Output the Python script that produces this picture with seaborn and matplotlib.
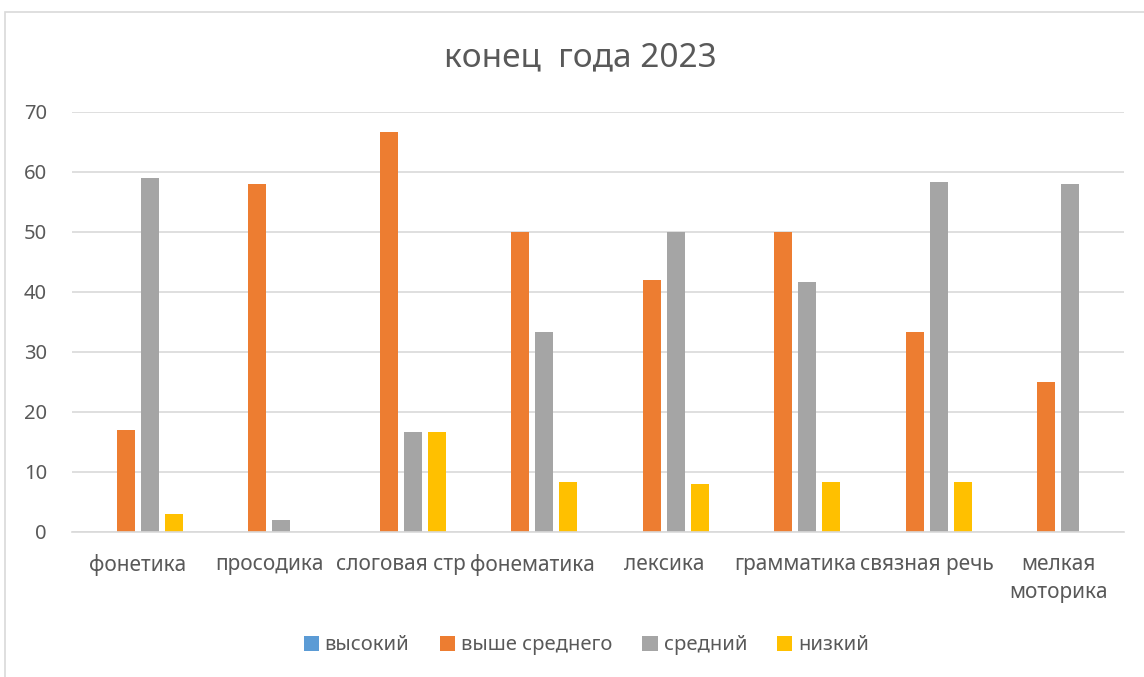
import matplotlib
matplotlib.use("Agg")
import pandas as pd
import seaborn as sns
from matplotlib import pyplot as plt
from matplotlib.patches import Rectangle

# chart values
categories = ['фонетика', 'просодика', 'слоговая стр', 'фонематика', 'лексика',
              'грамматика', 'связная речь', 'мелкая\nмоторика']
levels = ['высокий', 'выше среднего', 'средний', 'низкий']
high = [0, 0, 0, 0, 0, 0, 0, 0]
above_avg = [17, 58, 66.7, 50, 42, 50, 33.3, 25]
average = [59, 2, 16.7, 33.3, 50, 41.7, 58.3, 58]
low = [3, 0, 16.7, 8.3, 8, 8.3, 8.3, 0]
colors = ['#5B9BD5', '#ED7D31', '#A5A5A5', '#FFC000']

df = pd.DataFrame({'Категория': categories * 4,
                   'Уровень': [lvl for lvl in levels for _ in categories],
                   'value': high + above_avg + average + low})

sns.set_theme(style="white")
plt.rcParams['font.family'] = ['Noto Sans', 'DejaVu Sans']
text_color = '#595959'

fig = plt.figure(figsize=(11.44, 6.77), dpi=100)
ax = fig.add_axes([0.063, 0.2142, 0.9195, 0.6204])

sns.barplot(data=df, x='Категория', y='value', hue='Уровень', hue_order=levels,
            palette=colors, saturation=1, width=0.73, gap=0.25, linewidth=0,
            ax=ax, legend=True)

ax.set_ylim(0, 70)
ax.set_yticks(range(0, 71, 10))
ax.set_xlim(-0.5, len(categories) - 0.5)
ax.yaxis.grid(True, color='#D9D9D9', linewidth=1.2)
ax.set_axisbelow(True)
for side in ['top', 'right', 'left']:
    ax.spines[side].set_visible(False)
ax.spines['bottom'].set_color('#D9D9D9')
ax.spines['bottom'].set_linewidth(1.2)
ax.tick_params(axis='both', length=0, labelcolor=text_color)
ax.tick_params(axis='x', pad=16, labelsize=15)
ax.tick_params(axis='y', pad=18, labelsize=14.5)
for lbl in ax.get_xticklabels():
    lbl.set_linespacing(1.45)
ax.set_xlabel('')
ax.set_ylabel('')

ax.legend(loc='center', bbox_to_anchor=(0.489, -0.27), ncol=4, frameon=False,
          fontsize=14.5, handlelength=0.75, handleheight=0.75, handletextpad=0.3,
          columnspacing=1.5, labelcolor=text_color)

fig.text(0.507, 0.914, 'конец  года 2023', ha='center', va='center',
         fontsize=24, color=text_color)

# chart frame
fig.patches.append(Rectangle((5 / 1144, -0.1), 1.2, 1 - 12 / 677 + 0.1,
                             transform=fig.transFigure, fill=False,
                             edgecolor='#D9D9D9', linewidth=1.2))

fig.savefig('out.png', dpi=100)
